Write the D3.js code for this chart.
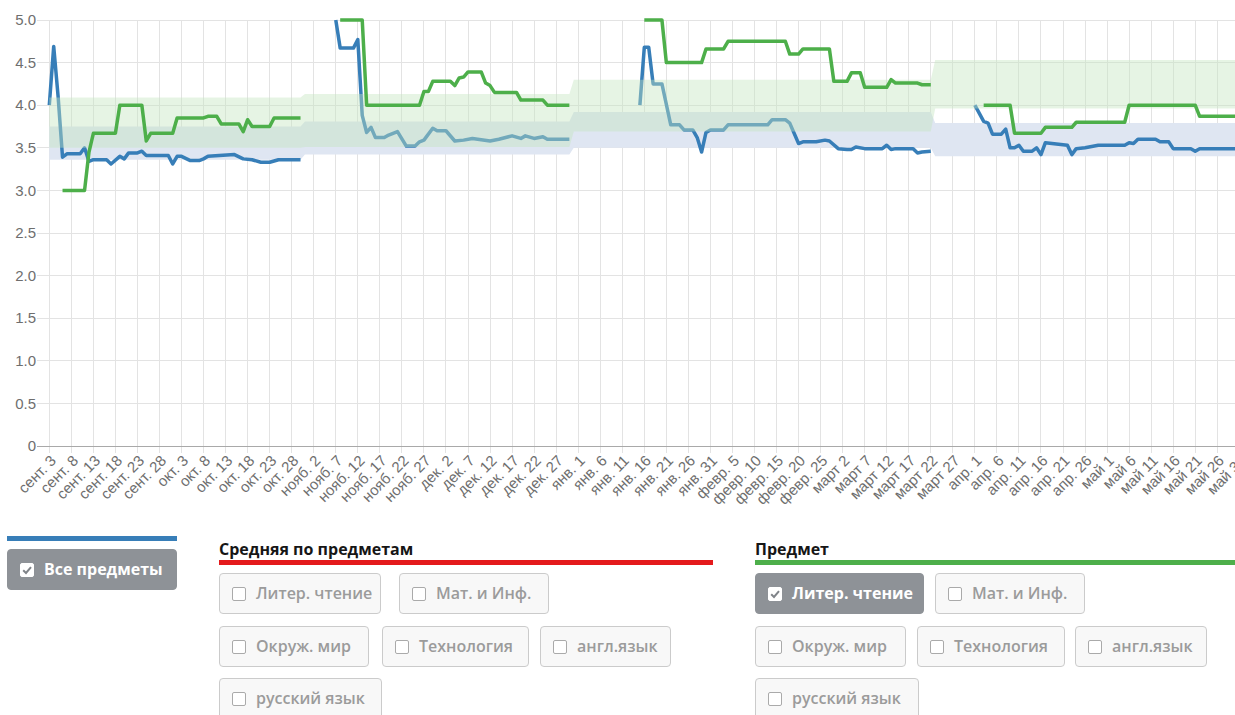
<!DOCTYPE html>
<html lang="ru">
<head>
<meta charset="utf-8">
<script src="https://cdn.jsdelivr.net/npm/d3@7"></script>
<style>
  body { margin:0; background:#fff; width:1235px; height:715px; overflow:hidden; position:relative;
         font-family:"Open Sans","Noto Sans",sans-serif; }
  #chart { position:absolute; left:0; top:0; }
  .tick-label { font-family:"Liberation Sans",Arial,sans-serif; fill:#6e6e6e; }
  .bar { position:absolute; height:5px; }
  .title { position:absolute; font-weight:700; font-size:16px; color:#161616; line-height:20px; }
  .btn { position:absolute; height:41px; box-sizing:border-box; border:1px solid #cbcbcb; border-radius:4px;
         background:#f8f8f8; color:#9b9b9b; font-size:16px; font-weight:600; white-space:nowrap; }
  .btn .box { position:absolute; left:12px; top:13px; width:14px; height:14px; box-sizing:border-box;
              border:1.5px solid #aaaaaa; border-radius:2px; background:#fff; }
  .btn .box svg { position:absolute; left:-1.5px; top:-1.5px; }
  .btn .label { position:absolute; left:36px; top:0; line-height:39px; }
  .btn.on { background:#8e9297; border-color:#8e9297; color:#fff; font-weight:700; }
  .btn.on .box { border-color:#fff; }
</style>
</head>
<body>
<svg id="chart" width="1235" height="528"></svg>
<script>
// ---- data -------------------------------------------------------------
const monthNames = ["янв.","февр.","март","апр.","май","июнь","июль","авг.","сент.","окт.","нояб.","дек."];
const yTicks = [0, 0.5, 1, 1.5, 2, 2.5, 3, 3.5, 4, 4.5, 5];
const yTickLabels = ["0","0.5","1.0","1.5","2.0","2.5","3.0","3.5","4.0","4.5","5.0"];
const firstDay = "09-03";
const lastDay = "05-31";

// school terms and the class ranges for each term
const termStarts = ["09-03","10-31","12-31","03-23"];
const termEnds   = ["10-30","12-30","03-22","05-31"];
const allBandLow  = [3.36, 3.42, 3.50, 3.40];
const allBandHigh = [3.75, 3.81, 3.92, 3.79];
const subjectBandLow  = [3.50, 3.51, 3.69, 3.96];
const subjectBandHigh = [4.09, 4.13, 4.30, 4.53];

// "Все предметы" running average, one array per term
const allTerm1 = [["09-03",4.00],["09-04",4.69],["09-05",4.10],["09-06",3.39],["09-07",3.43],["09-10",3.43],
  ["09-11",3.50],["09-12",3.34],["09-13",3.36],["09-16",3.36],["09-17",3.31],["09-19",3.40],["09-20",3.37],
  ["09-21",3.44],["09-23",3.44],["09-24",3.46],["09-25",3.41],["09-30",3.41],["10-01",3.31],["10-02",3.40],
  ["10-03",3.40],["10-05",3.35],["10-07",3.35],["10-08",3.37],["10-09",3.40],["10-15",3.42],["10-17",3.37],
  ["10-19",3.36],["10-21",3.33],["10-23",3.33],["10-25",3.36],["10-30",3.36]];
const allTerm2 = [["11-07",5.00],["11-08",4.67],["11-11",4.67],["11-12",4.77],["11-13",3.88],["11-14",3.68],
  ["11-15",3.74],["11-16",3.62],["11-18",3.62],["11-19",3.65],["11-21",3.69],["11-23",3.52],["11-25",3.52],
  ["11-26",3.57],["11-27",3.59],["11-29",3.73],["11-30",3.70],["12-02",3.70],["12-04",3.58],["12-06",3.59],
  ["12-08",3.61],["12-12",3.58],["12-14",3.60],["12-17",3.64],["12-19",3.61],["12-20",3.64],["12-22",3.61],
  ["12-24",3.63],["12-25",3.60],["12-30",3.60]];
const allTerm3 = [["01-15",4.00],["01-16",4.68],["01-17",4.68],["01-18",4.25],["01-20",4.25],["01-22",3.77],
  ["01-24",3.77],["01-25",3.71],["01-27",3.71],["01-28",3.62],["01-29",3.45],["01-30",3.68],["01-31",3.71],
  ["02-03",3.71],["02-04",3.77],["02-13",3.77],["02-14",3.83],["02-17",3.83],["02-18",3.79],["02-20",3.55],
  ["02-21",3.57],["02-24",3.57],["02-26",3.59],["02-27",3.58],["03-01",3.49],["03-03",3.48],["03-04",3.48],
  ["03-05",3.51],["03-07",3.49],["03-11",3.49],["03-12",3.53],["03-13",3.48],["03-14",3.49],["03-18",3.49],
  ["03-19",3.44],["03-20",3.45],["03-22",3.46]];
const allTerm4 = [["04-01",4.00],["04-03",3.81],["04-04",3.79],["04-05",3.66],["04-07",3.66],["04-08",3.72],
  ["04-09",3.50],["04-10",3.50],["04-11",3.53],["04-12",3.46],["04-14",3.46],["04-15",3.50],["04-16",3.42],
  ["04-17",3.56],["04-22",3.53],["04-23",3.42],["04-24",3.49],["04-26",3.50],["04-29",3.53],["05-05",3.53],
  ["05-06",3.56],["05-07",3.55],["05-08",3.60],["05-12",3.60],["05-13",3.57],["05-15",3.57],["05-16",3.49],
  ["05-20",3.49],["05-21",3.46],["05-22",3.49],["05-31",3.49]];

// "Литер. чтение" running average, one array per term
const subjectTerm1 = [["09-06",3.00],["09-11",3.00],["09-12",3.45],["09-13",3.67],["09-18",3.67],["09-19",4.00],
  ["09-24",4.00],["09-25",3.58],["09-26",3.67],["10-01",3.67],["10-02",3.85],["10-08",3.85],["10-09",3.87],
  ["10-11",3.87],["10-12",3.78],["10-16",3.78],["10-17",3.69],["10-18",3.83],["10-19",3.75],["10-23",3.75],
  ["10-24",3.85],["10-30",3.85]];
const subjectTerm2 = [["11-08",5.00],["11-13",5.00],["11-14",4.00],["11-26",4.00],["11-27",4.16],["11-28",4.16],
  ["11-29",4.28],["12-03",4.28],["12-04",4.23],["12-05",4.32],["12-06",4.33],["12-07",4.39],["12-10",4.39],
  ["12-11",4.26],["12-12",4.23],["12-13",4.15],["12-18",4.15],["12-19",4.06],["12-24",4.06],["12-25",4.00],
  ["12-30",4.00]];
const subjectTerm3 = [["01-16",5.00],["01-20",5.00],["01-21",4.50],["01-29",4.50],["01-30",4.66],["02-03",4.66],
  ["02-04",4.75],["02-17",4.75],["02-18",4.60],["02-20",4.60],["02-21",4.66],["02-27",4.66],["02-28",4.28],
  ["03-03",4.28],["03-04",4.38],["03-06",4.38],["03-07",4.21],["03-12",4.21],["03-13",4.30],["03-14",4.26],
  ["03-19",4.26],["03-20",4.24],["03-22",4.24]];
const subjectTerm4 = [["04-03",4.00],["04-09",4.00],["04-10",3.67],["04-16",3.67],["04-17",3.74],["04-23",3.74],
  ["04-24",3.80],["05-05",3.80],["05-06",4.00],["05-21",4.00],["05-22",3.87],["05-31",3.87]];

const subjects = ["Литер. чтение","Мат. и Инф.","Окруж. мир","Технология","англ.язык","русский язык"];
const selectedSubject = "Литер. чтение";

// ---- helpers ----------------------------------------------------------
const parse = d3.utcParse("%Y-%m-%d");
const toDate = md => parse((+md.slice(0, 2) >= 9 ? "2018-" : "2019-") + md);
const toPoints = seg => seg.map(([md, v]) => ({ date: toDate(md), value: v }));

const colors = { all: "#377eb8", avg: "#e41a1c", subject: "#4daf4a" };

// ---- chart ------------------------------------------------------------
const svg = d3.select("#chart");
const W = 1235;

const x = d3.scaleUtc().domain([toDate(firstDay), toDate(lastDay)]).range([49.3, 1239.3]);
const y = d3.scaleLinear().domain([0, 5]).range([446, 20]);

const tickDates = d3.utcDay.range(toDate(firstDay), d3.utcDay.offset(toDate(lastDay), 1), 5);
const fmt = d => monthNames[d.getUTCMonth()] + " " + d.getUTCDate();

// grid
const grid = svg.append("g");
grid.selectAll(".hgrid").data(yTicks.filter(v => v > 0)).join("line")
  .attr("x1", 37).attr("x2", W).attr("y1", d => y(d)).attr("y2", d => y(d))
  .attr("stroke", "#e3e3e3").attr("stroke-width", 1).attr("shape-rendering", "crispEdges");
grid.selectAll(".vgrid").data(tickDates).join("line")
  .attr("x1", d => x(d)).attr("x2", d => x(d)).attr("y1", y(5)).attr("y2", y(0) + 7)
  .attr("stroke", "#e3e3e3").attr("stroke-width", 1).attr("shape-rendering", "crispEdges");
grid.append("line").attr("x1", 37).attr("x2", W).attr("y1", y(0)).attr("y2", y(0))
  .attr("stroke", "#a9a9a9").attr("stroke-width", 1).attr("shape-rendering", "crispEdges");

// y labels
svg.append("g").selectAll("text").data(yTicks).join("text")
  .attr("class", "tick-label")
  .attr("x", 36).attr("y", d => y(d)).attr("dy", "0.35em")
  .attr("text-anchor", "end").attr("font-size", 15)
  .text((d, i) => yTickLabels[i]);

// x labels
svg.append("g").selectAll("text").data(tickDates).join("text")
  .attr("class", "tick-label")
  .attr("font-size", 15)
  .attr("text-anchor", "end")
  .attr("transform", d => `translate(${x(d) + 4},${y(0) + 12}) rotate(-45)`)
  .attr("dy", "0.35em")
  .text(fmt);

// bands
const bandRows = (lo, hi) => termStarts.flatMap((s, i) => [
  { date: toDate(s), lo: lo[i], hi: hi[i] },
  { date: toDate(termEnds[i]), lo: lo[i], hi: hi[i] }
]);
const band = d3.area().x(d => x(d.date)).y0(d => y(d.lo)).y1(d => y(d.hi));
const line = d3.line().x(d => x(d.date)).y(d => y(d.value));

const drawLine = (segs, color) => svg.append("g").selectAll("path").data(segs.map(toPoints)).join("path")
  .attr("d", line).attr("fill", "none").attr("stroke", color)
  .attr("stroke-width", 3.5).attr("stroke-linejoin", "round").attr("stroke-linecap", "butt");

svg.append("path").datum(bandRows(allBandLow, allBandHigh))
  .attr("d", band).attr("fill", "#dfe6f2");
drawLine([allTerm1, allTerm2, allTerm3, allTerm4], colors.all);

svg.append("path").datum(bandRows(subjectBandLow, subjectBandHigh))
  .attr("d", band).attr("fill", "rgb(196,228,190)").attr("fill-opacity", 0.42);
drawLine([subjectTerm1, subjectTerm2, subjectTerm3, subjectTerm4], colors.subject);

// ---- legend -----------------------------------------------------------
const body = d3.select("body");
const checkSvg = '<svg width="14" height="14" viewBox="0 0 14 14"><path d="M3.2 7.3 L6 10 L11 4.2" stroke="#808489" stroke-width="2" fill="none"/></svg>';

function button(left, top, width, label, on) {
  const b = body.append("div").attr("class", "btn" + (on ? " on" : ""))
    .style("left", left + "px").style("top", top + "px").style("width", width + "px");
  b.append("span").attr("class", "box").html(on ? checkSvg : "");
  b.append("span").attr("class", "label").text(label);
}

body.append("div").attr("class", "bar").style("left", "7px").style("top", "536px")
  .style("width", "170px").style("background", colors.all);
button(7, 549, 170, "Все предметы", true);

body.append("div").attr("class", "title").style("left", "219px").style("top", "539px").text("Средняя по предметам");
body.append("div").attr("class", "bar").style("left", "219px").style("top", "560px")
  .style("width", "494px").style("background", colors.avg);

body.append("div").attr("class", "title").style("left", "755px").style("top", "539px").text("Предмет");
body.append("div").attr("class", "bar").style("left", "755px").style("top", "560px")
  .style("width", "480px").style("background", colors.subject);

const rowTops = [573, 626, 678];
const rowOf = [0, 0, 1, 1, 1, 2];
const avgLefts = [219, 399, 219, 382, 540, 219];
const avgWidths = [162, 150, 150, 147, 131, 163];
const subjLefts = [755, 935, 755, 917, 1075, 755];
const subjWidths = [169, 150, 151, 148, 132, 164];

subjects.forEach((s, i) => {
  button(avgLefts[i], rowTops[rowOf[i]], avgWidths[i], s, false);
  button(subjLefts[i], rowTops[rowOf[i]], subjWidths[i], s, s === selectedSubject);
});
</script>
</body>
</html>
